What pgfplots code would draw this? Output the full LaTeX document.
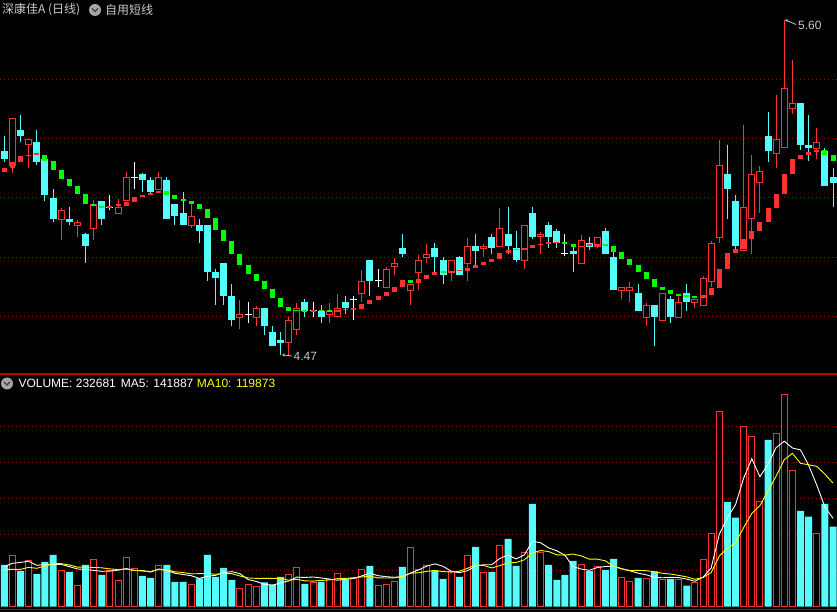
\documentclass[border=0pt]{standalone}
\usepackage{pgfplots}
\pgfplotsset{compat=1.18}
\usepackage{pgfplotstable}
\usetikzlibrary{arrows.meta}
\usepackage{fontspec}
\setmainfont{Liberation Sans}
\newfontfamily\cjk{Noto Sans CJK SC}
\definecolor{kred}{HTML}{FF3232}
\definecolor{kcyan}{HTML}{54FCFC}
\definecolor{kgreen}{HTML}{00FF00}
\definecolor{kgrid}{HTML}{A00000}
\definecolor{ksep}{HTML}{C00000}
\definecolor{ktext}{HTML}{C8C8C8}
\definecolor{kyel}{HTML}{FFFF00}

% candles: x open high low close
\pgfplotstableread{
x o h l c
1 5.109 5.268 5.083 5.268
3 5.177 5.198 5.102 5.198
7 4.926 4.965 4.858 4.959
9 4.906 4.925 4.868 4.918
11 4.896 4.993 4.858 4.978
14 4.947 4.997 4.947 4.968
15 4.990 5.087 4.990 5.069
19 5.027 5.087 5.027 5.069
23 4.905 4.979 4.900 4.939
29 4.596 4.656 4.558 4.608
31 4.596 4.635 4.568 4.629
35 4.510 4.598 4.472 4.588
36 4.556 4.645 4.538 4.629
40 4.606 4.646 4.579 4.618
41 4.597 4.676 4.597 4.628
44 4.677 4.757 4.650 4.720
47 4.697 4.766 4.697 4.760
48 4.768 4.798 4.740 4.780
50 4.687 4.710 4.639 4.710
51 4.747 4.807 4.689 4.791
52 4.798 4.845 4.781 4.810
55 4.748 4.791 4.721 4.791
57 4.777 4.865 4.721 4.838
59 4.829 4.845 4.802 4.838
61 4.835 4.966 4.835 4.899
64 4.788 4.909 4.760 4.909
66 4.867 4.885 4.811 4.878
71 4.778 4.876 4.778 4.858
73 4.835 4.868 4.832 4.868
76 4.687 4.698 4.659 4.698
77 4.687 4.716 4.649 4.698
79 4.596 4.645 4.568 4.639
81 4.586 4.679 4.586 4.679
83 4.596 4.669 4.596 4.649
85 4.647 4.659 4.630 4.659
86 4.636 4.738 4.636 4.730
87 4.717 4.855 4.700 4.847
88 4.866 5.195 4.849 5.110
91 4.820 5.246 4.820 4.968
92 4.928 5.145 4.812 5.080
93 5.049 5.109 4.950 5.090
95 5.147 5.347 5.102 5.198
96 5.167 5.600 5.167 5.370
97 5.299 5.465 5.282 5.319
100 5.166 5.236 5.132 5.188
}\upc

\pgfplotstableread{
x o h l c
0 5.158 5.209 5.122 5.131
2 5.229 5.280 5.190 5.210
4 5.189 5.229 5.111 5.122
5 5.131 5.131 4.991 5.010
6 5.000 5.030 4.920 4.929
8 4.929 4.969 4.909 4.920
10 4.878 4.882 4.780 4.839
12 4.990 4.990 4.910 4.929
17 5.081 5.085 5.021 5.060
18 5.060 5.069 5.018 5.021
20 5.060 5.069 4.929 4.929
21 4.979 4.979 4.909 4.940
22 4.949 5.020 4.909 4.909
24 4.909 4.929 4.848 4.888
25 4.909 4.909 4.721 4.751
26 4.750 4.760 4.639 4.730
27 4.780 4.780 4.639 4.669
28 4.669 4.710 4.568 4.588
32 4.629 4.629 4.538 4.568
33 4.548 4.568 4.500 4.500
34 4.521 4.549 4.470 4.510
37 4.649 4.659 4.600 4.619
39 4.619 4.639 4.579 4.600
42 4.649 4.669 4.608 4.630
45 4.791 4.791 4.669 4.720
49 4.831 4.879 4.802 4.811
53 4.831 4.849 4.751 4.802
54 4.791 4.802 4.710 4.740
56 4.801 4.805 4.740 4.740
58 4.838 4.878 4.774 4.821
60 4.868 4.878 4.811 4.831
62 4.878 4.969 4.811 4.838
63 4.831 4.888 4.783 4.791
65 4.949 4.969 4.860 4.868
67 4.909 4.919 4.831 4.868
68 4.888 4.895 4.831 4.847
70 4.821 4.835 4.750 4.811
72 4.849 4.868 4.823 4.834
74 4.888 4.899 4.811 4.811
75 4.801 4.819 4.689 4.689
78 4.679 4.710 4.619 4.619
80 4.639 4.639 4.500 4.598
82 4.659 4.669 4.578 4.598
84 4.679 4.710 4.619 4.650
89 5.081 5.178 4.930 5.031
90 4.990 5.010 4.828 4.839
94 5.209 5.290 5.122 5.159
98 5.319 5.319 5.161 5.179
99 5.178 5.279 5.125 5.169
101 5.159 5.167 5.041 5.041
102 5.071 5.101 4.970 5.051
}\downc

\pgfplotstableread{
x o h l c
13 4.969 5.010 4.959 4.969
16 5.069 5.121 5.031 5.069
30 4.608 4.649 4.578 4.608
38 4.619 4.649 4.600 4.619
43 4.658 4.669 4.588 4.658
46 4.720 4.760 4.700 4.720
69 4.812 4.878 4.805 4.812
}\dojic

% short-line indicator segments: x lo hi
\pgfplotstableread{
x lo hi
0 5.088 5.101
1 5.101 5.120
2 5.120 5.141
3 5.141 5.145
4 5.145 5.146
13 4.966 4.973
14 4.973 4.974
15 4.974 4.987
16 4.987 5.003
17 5.003 5.010
18 5.010 5.017
19 5.017 5.023
38 4.617 4.619
41 4.617 4.622
42 4.622 4.623
43 4.623 4.625
44 4.625 4.641
45 4.641 4.656
46 4.656 4.669
47 4.669 4.683
48 4.683 4.700
49 4.700 4.723
51 4.713 4.726
52 4.726 4.740
53 4.740 4.750
55 4.748 4.752
56 4.752 4.753
57 4.753 4.764
58 4.764 4.774
59 4.774 4.784
60 4.784 4.794
61 4.794 4.814
62 4.814 4.824
64 4.823 4.831
65 4.831 4.841
66 4.841 4.845
67 4.845 4.847
68 4.847 4.851
71 4.834 4.838
72 4.838 4.839
73 4.839 4.840
86 4.663 4.672
87 4.672 4.697
88 4.697 4.760
89 4.760 4.814
90 4.814 4.828
91 4.828 4.861
92 4.861 4.888
93 4.888 4.919
94 4.919 4.966
95 4.966 5.013
96 5.013 5.081
97 5.081 5.131
98 5.131 5.145
99 5.145 5.155
100 5.155 5.162
}\indred

\pgfplotstableread{
x lo hi
5 5.124 5.146
6 5.094 5.124
7 5.064 5.094
8 5.040 5.064
9 5.013 5.040
10 4.979 5.013
11 4.973 4.979
12 4.966 4.973
20 5.010 5.023
21 4.997 5.010
22 4.991 4.997
23 4.979 4.991
24 4.963 4.979
25 4.932 4.963
26 4.892 4.932
27 4.855 4.892
28 4.811 4.855
29 4.774 4.811
30 4.743 4.774
31 4.720 4.743
32 4.693 4.720
33 4.662 4.693
34 4.633 4.662
35 4.620 4.633
36 4.618 4.620
37 4.617 4.618
39 4.618 4.619
40 4.617 4.618
50 4.713 4.723
54 4.748 4.750
63 4.823 4.824
69 4.846 4.851
70 4.834 4.846
74 4.839 4.840
75 4.818 4.839
76 4.794 4.818
77 4.774 4.794
78 4.750 4.774
79 4.726 4.750
80 4.700 4.726
81 4.689 4.700
82 4.676 4.689
83 4.669 4.676
84 4.666 4.669
85 4.663 4.666
101 5.145 5.162
102 5.125 5.145
}\indgreen

% volume (thousand shares)
\pgfplotstableread{
x v
1 152
3 139
7 109
9 64
11 142
13 107
14 79
15 148
16 115
19 124
23 67
29 55
30 67
31 61
35 97
36 118
38 73
40 82
41 100
43 85
44 112
46 64
47 67
48 76
50 178
51 112
52 124
55 104
57 154
59 103
61 184
64 163
66 163
71 127
73 121
76 88
77 76
79 85
81 80
83 82
85 73
86 142
87 220
88 586
91 541
92 511
93 316
95 518
96 637
97 409
100 220
}\volr

\pgfplotstableread{
x v
0 125
2 107
4 98
5 134
6 155
8 104
10 125
12 95
17 92
18 86
20 125
21 74
22 74
24 85
25 155
26 89
27 116
28 80
32 73
33 66
34 89
37 68
39 74
42 82
45 122
49 119
53 109
54 83
56 89
58 179
60 104
62 203
63 122
65 308
67 125
68 80
69 95
70 137
72 107
74 110
75 143
78 86
80 106
82 83
84 63
89 314
90 267
94 500
98 287
99 270
101 308
102 240
}\volc

\pgfplotstableread{
x m5 m10
0 120 112
1 130 112
2 133 112
3 136 118
4 124.2 115
5 126 122
6 126.6 129
7 127 129
8 120 125
9 113.2 118.7
10 111.4 118.7
11 108.8 117.7
12 106 116.5
13 106.6 113.3
14 109.6 111.4
15 114.2 112.8
16 108.8 108.8
17 108.2 107.1
18 104 105.3
19 113 111.3
20 108.4 111.3
21 100.2 104.5
22 96.6 102.4
23 92.8 98.4
24 85 99
25 91 99.7
26 94 97.1
27 102.4 99.5
28 105 98.9
29 99 92
30 81.4 86.2
31 75.8 84.9
32 67.2 84.8
33 64.4 84.7
34 71.2 85.1
35 77.2 79.3
36 88.6 82.2
37 87.6 77.4
38 89 76.7
39 86 78.6
40 83 80.1
41 79.4 84
42 82.2 84.9
43 84.6 86.8
44 92.2 89.1
45 100.2 91.6
46 93 86.2
47 90 86.1
48 88.2 86.4
49 89.6 90.9
50 100.8 100.5
51 110.4 101.7
52 121.8 105.9
53 128.4 108.3
54 121.2 105.4
55 106.4 103.6
56 101.8 106.1
57 107.8 114.8
58 121.8 125.1
59 125.8 123.5
60 125.8 116.1
61 144.8 123.3
62 154.6 131.2
63 143.2 132.5
64 155.2 140.5
65 196 160.9
66 191.8 168.3
67 176.2 165.4
68 167.8 155.5
69 154.2 154.7
70 120 158
71 112.8 152.3
72 109.2 142.7
73 117.4 142.6
74 120.4 137.3
75 121.6 120.8
76 113.8 113.3
77 107.6 108.4
78 100.6 109
79 95.6 108
80 88.2 104.9
81 86.6 100.2
82 88 97.8
83 87.2 93.9
84 82.8 89.2
85 76.2 82.2
86 88.6 87.6
87 116 102
88 216.8 152
89 267 174.9
90 305.8 191
91 385.6 237.1
92 443.8 279.9
93 389.8 303.3
94 427 347
95 477.2 391.5
96 496.4 441
97 476 459.9
98 470.2 430
99 424.2 425.6
100 364.6 420.9
101 298.8 397.6
102 265 370.5
}\matab

\pgfplotsset{
  seg/.style 2 args={draw=none, mark=none, forget plot,
    error bars/.cd, y dir=plus, y explicit, error mark=none,
    error bar style={draw=#1, line width=#2, line cap=butt}},
  panel/.style={scale only axis, width=837pt,
    xmin=-0.53, xmax=102.49,
    axis line style={draw=none}, xtick=\empty, yticklabels={},
    major tick length=0pt, tick style={draw=none},
    ymajorgrids, grid style={kgrid, line width=1pt, dash pattern=on 1pt off 3pt}},
}

\begin{document}
\begin{tikzpicture}
\path[use as bounding box] (0,0) rectangle (837pt,612pt);
\fill[black] (0,0) rectangle (837pt,612pt);

% ---------- price panel ----------
\begin{axis}[panel, at={(0pt,612pt)}, anchor=north west, height=374pt,
  ymin=4.4063, ymax=5.6675, ytick={4.6,4.8,5.0,5.2,5.4}]
 % wicks
 \addplot[seg={kred}{1pt}] table[x=x, y=l, y error expr={\thisrow{h}-\thisrow{l}}] {\upc};
 \addplot[seg={kcyan}{1pt}] table[x=x, y=l, y error expr={\thisrow{h}-\thisrow{l}}] {\downc};
 \addplot[seg={white}{1pt}] table[x=x, y=l, y error expr={\thisrow{h}-\thisrow{l}}] {\dojic};
 % up bodies (hollow)
 \addplot[seg={kred}{7pt}] table[x=x, y=o, y error expr={max(\thisrow{c}-\thisrow{o},0.0034)}] {\upc};
 \addplot[seg={black}{5pt}] table[x=x, y expr={\thisrow{o}+0.0034}, y error expr={max(\thisrow{c}-\thisrow{o}-0.0068,0)}] {\upc};
 % down bodies (filled)
 \addplot[seg={kcyan}{7pt}] table[x=x, y=c, y error expr={max(\thisrow{o}-\thisrow{c},0.0034)}] {\downc};
 % doji bars
 \addplot[seg={white}{7pt}] table[x=x, y expr={\thisrow{o}-0.0017}, y error expr={0.0034}] {\dojic};
 % short-line indicator
 \addplot[seg={kred}{5pt}] table[x=x, y=lo, y error expr={max(\thisrow{hi}-\thisrow{lo},0.005)}] {\indred};
 \addplot[seg={kgreen}{5pt}] table[x=x, y=lo, y error expr={max(\thisrow{hi}-\thisrow{lo},0.005)}] {\indgreen};
\end{axis}

% ---------- volume panel ----------
\begin{axis}[panel, at={(0pt,238pt)}, anchor=north west, height=238pt,
  ymin=-16, ymax=698, ytick={108,216,324,432,540}]
 \addplot[ybar, bar width=7pt, bar shift=0pt, fill=kcyan, draw=none, forget plot] table[x=x, y=v] {\volc};
 \addplot[ybar, bar width=6pt, bar shift=0pt, fill=black, draw=kred, line width=1pt, forget plot] table[x=x, y=v] {\volr};
 \addplot[white, line width=0.9pt, mark=none] table[x=x, y=m5] {\matab};
 \addplot[kyel, line width=0.9pt, mark=none] table[x=x, y=m10] {\matab};
 \draw[ksep, line width=1.2pt] (rel axis cs:0,1) -- (rel axis cs:1,1);
 \draw[ksep, line width=1pt] (rel axis cs:0,0.009) -- (rel axis cs:1,0.009);
\end{axis}

% ---------- texts ----------
\node[anchor=west, inner sep=0pt, text=ktext, font=\cjk\fontsize{12}{12}\selectfont] at (2pt,602pt) {深康佳A (日线)};
\fill[gray!70] (95pt,602pt) circle (6pt);
\draw[black!75, line width=1.3pt] (92pt,603.5pt) -- (95pt,600.5pt) -- (98pt,603.5pt);
\node[anchor=west, inner sep=0pt, text=ktext, font=\cjk\fontsize{12}{12}\selectfont] at (105pt,602pt) {自用短线};

\fill[gray!70] (7pt,228.5pt) circle (6pt);
\draw[black!75, line width=1.3pt] (4pt,230pt) -- (7pt,227pt) -- (10pt,230pt);
\node[anchor=base west, inner sep=0pt, text=white, font=\fontsize{12}{12}\selectfont] at (18.3pt,224.3pt) {VOLUME: 232681};
\node[anchor=base west, inner sep=0pt, text=white, font=\fontsize{12}{12}\selectfont] at (120.7pt,224.3pt) {MA5: 141887};
\node[anchor=base west, inner sep=0pt, text=kyel, font=\fontsize{12}{12}\selectfont] at (196.7pt,224.3pt) {MA10: 119873};

% high / low marks
\draw[ktext, line width=0.8pt, -{Stealth[length=3pt,width=3pt]}] (796pt,587.5pt) -- (785pt,592.3pt);
\node[anchor=west, inner sep=0pt, text=ktext, font=\fontsize{12}{12}\selectfont] at (798pt,587pt) {5.60};
\draw[ktext, line width=0.8pt, -{Stealth[length=3pt,width=3pt]}] (292pt,256pt) -- (282pt,257.2pt);
\node[anchor=west, inner sep=0pt, text=ktext, font=\fontsize{12}{12}\selectfont] at (293.5pt,255.5pt) {4.47};
\end{tikzpicture}
\end{document}
